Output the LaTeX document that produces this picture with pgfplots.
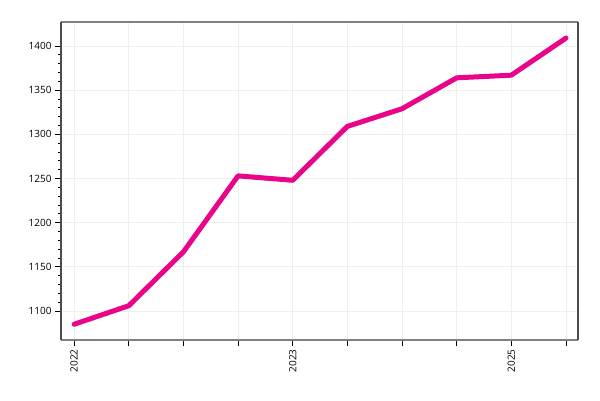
\documentclass[border=0pt]{standalone}
\usepackage{fontspec}
\setmainfont{Open Sans}
\usepackage{pgfplots}
\pgfplotsset{compat=1.18}
\definecolor{linepink}{RGB}{232,5,137}
\definecolor{gridgray}{RGB}{238,238,238}

\begin{document}
\begin{tikzpicture}
  \begin{axis}[
    at={(0,0)}, anchor=south west,
    scale only axis,
    width=517pt, height=318pt,
    xmin=-0.24, xmax=9.22,
    ymin=1067.2, ymax=1427.2,
    xtick={0,...,9},
    xticklabels={2022,,,,2023,,,,2025,},
    xticklabel style={rotate=90, anchor=east, font=\fontsize{10}{12}\selectfont},
    ytick={1100,1150,...,1400},
    minor y tick num=4,
    yticklabel style={font=\fontsize{10}{12}\selectfont},
    /pgf/number format/assume math mode=true,
    /pgf/number format/1000 sep={},
    tick align=outside,
    tick pos=left,
    major tick length=6pt,
    minor tick length=3pt,
    every tick/.style={black, line width=0.8pt},
    grid=major,
    major grid style={gridgray, line width=0.8pt},
    axis line style={black, line width=0.8pt},
    separate axis lines,
    x axis line style={draw=gray, line width=1.8pt},
    y axis line style={draw=black!70, line width=1.2pt},
    clip=false,
  ]
    \addplot[linepink, line width=5pt, line join=round, line cap=round] coordinates {
      (0,1085) (1,1106) (2,1167) (3,1253) (4,1248)
      (5,1309) (6,1329) (7,1364) (8,1367) (9,1409)
    };
  \end{axis}
  \path[use as bounding box] (-61pt,-60pt) rectangle (539pt,340pt);
\end{tikzpicture}
\end{document}
